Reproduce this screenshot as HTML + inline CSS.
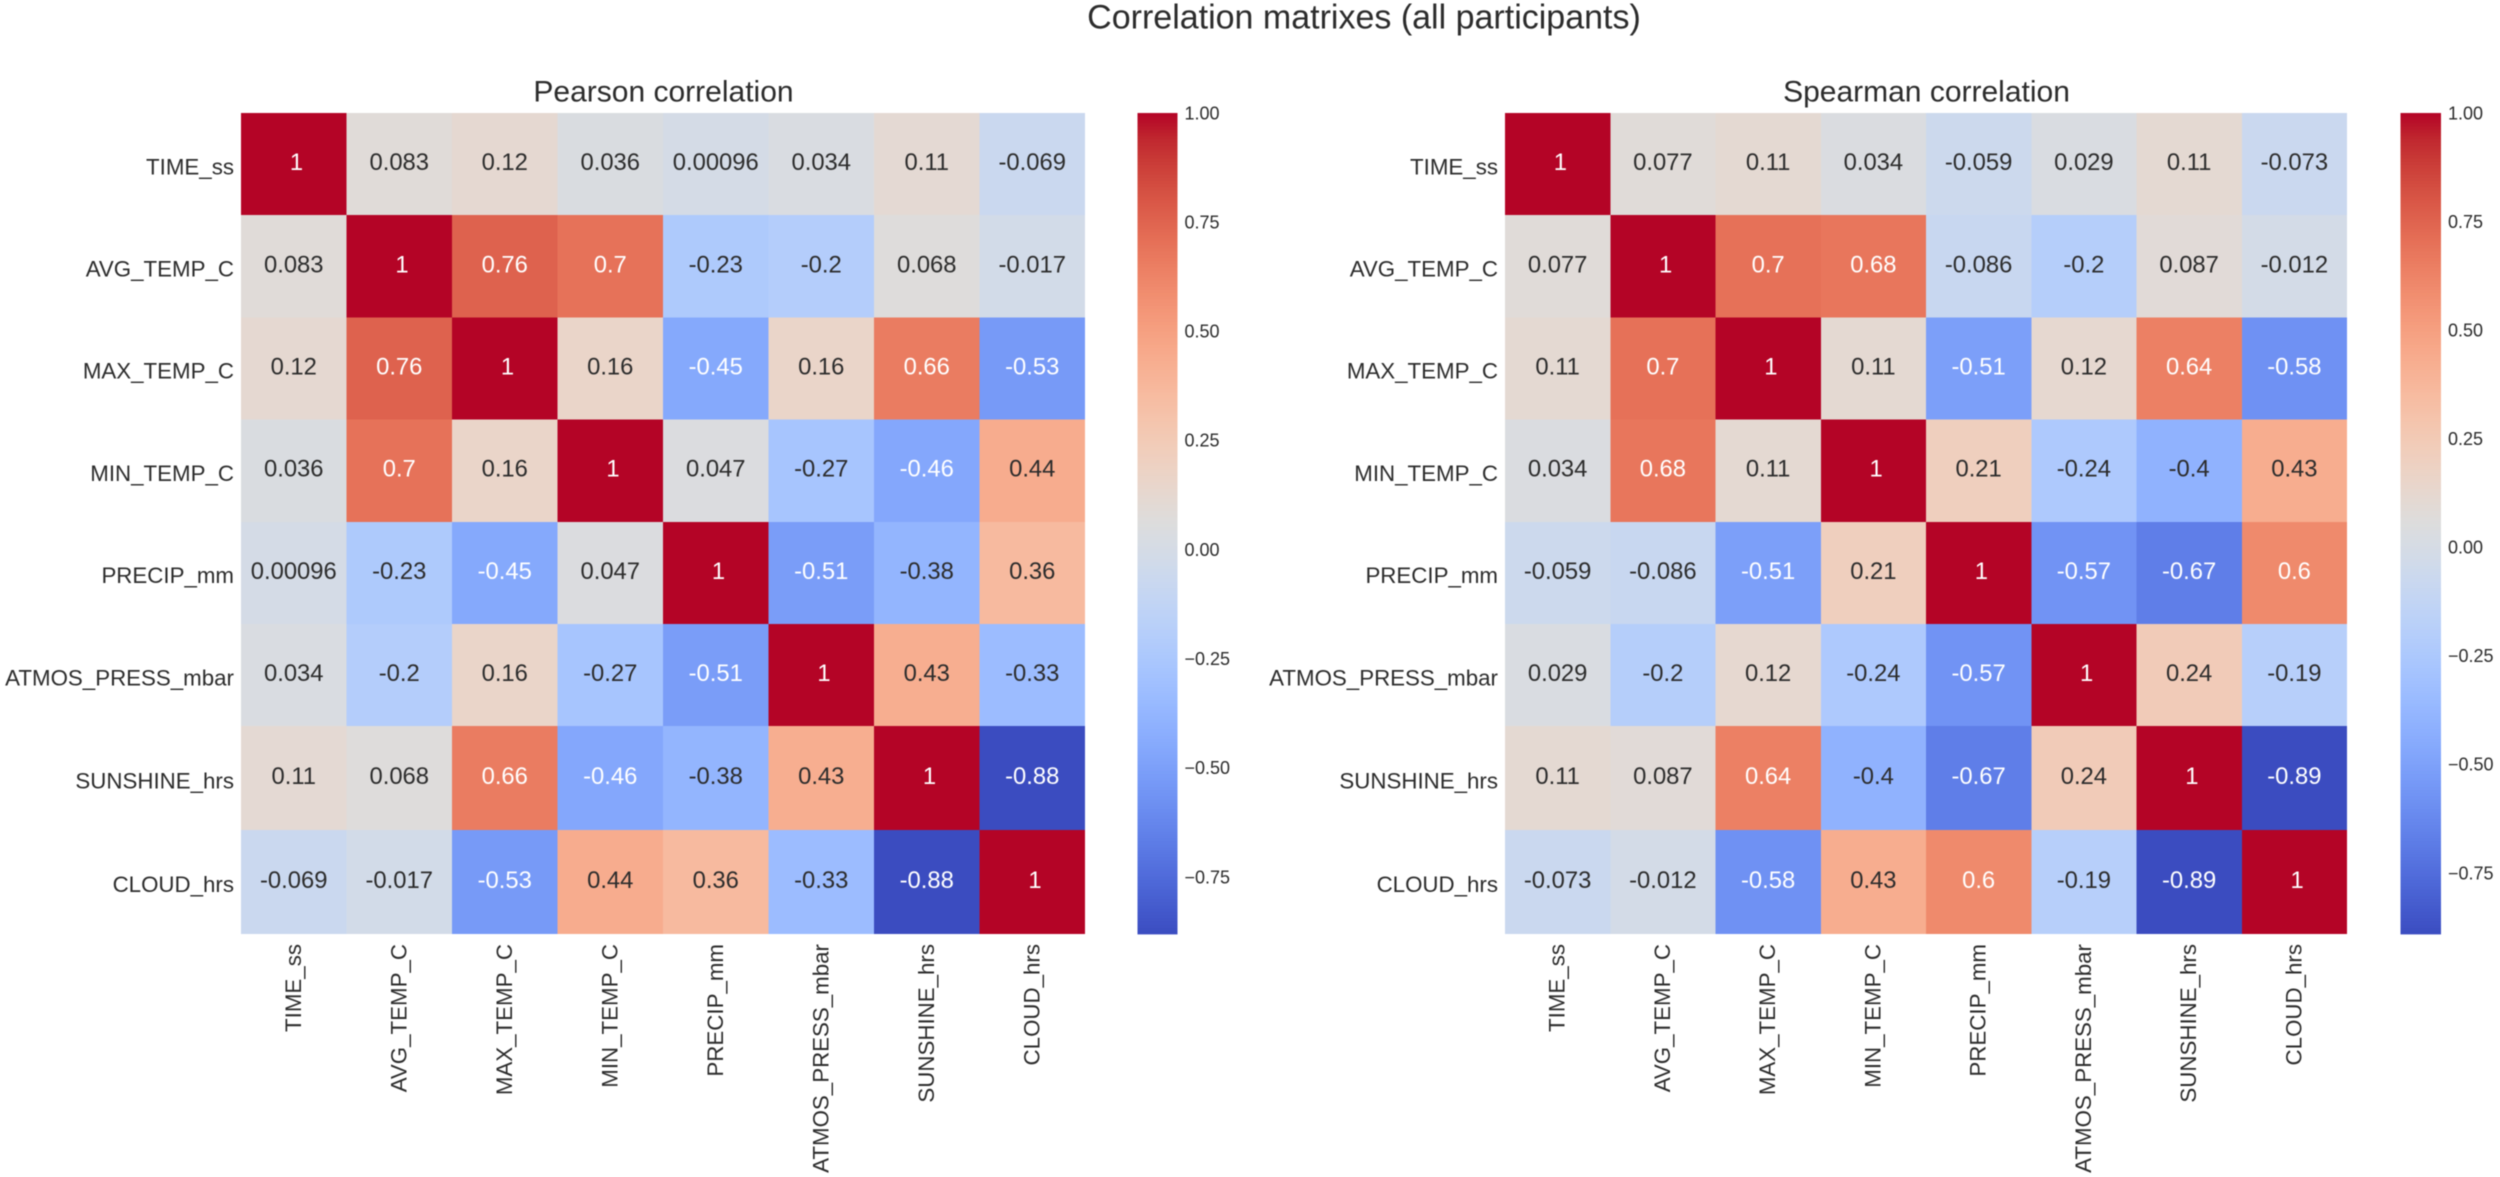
<!DOCTYPE html>
<html lang="en">
<head>
<meta charset="utf-8">
<title>Correlation matrixes (all participants)</title>
<style>
  html, body { margin: 0; padding: 0; background: #ffffff; width: 2500px; height: 1177px; overflow: hidden; }
  #chart { display: block; filter: blur(0.65px); }
  text { font-family: "Liberation Sans", sans-serif; fill: #2c2c2c; }
</style>
</head>
<body>
<svg id="chart" xmlns="http://www.w3.org/2000/svg" width="2500" height="1177" viewBox="0 0 2500 1177">
  <rect x="0" y="0" width="2500" height="1177" fill="#ffffff"></rect>
  <text x="1364" y="28.5" text-anchor="middle" font-size="34">Correlation matrixes (all participants)</text>
</svg>
<script>
const variables = ["TIME_ss", "AVG_TEMP_C", "MAX_TEMP_C", "MIN_TEMP_C", "PRECIP_mm", "ATMOS_PRESS_mbar", "SUNSHINE_hrs", "CLOUD_hrs"];

const pearsonValues = [
  [1, 0.083, 0.12, 0.036, 0.00096, 0.034, 0.11, -0.069],
  [0.083, 1, 0.76, 0.7, -0.23, -0.2, 0.068, -0.017],
  [0.12, 0.76, 1, 0.16, -0.45, 0.16, 0.66, -0.53],
  [0.036, 0.7, 0.16, 1, 0.047, -0.27, -0.46, 0.44],
  [0.00096, -0.23, -0.45, 0.047, 1, -0.51, -0.38, 0.36],
  [0.034, -0.2, 0.16, -0.27, -0.51, 1, 0.43, -0.33],
  [0.11, 0.068, 0.66, -0.46, -0.38, 0.43, 1, -0.88],
  [-0.069, -0.017, -0.53, 0.44, 0.36, -0.33, -0.88, 1]
];

const spearmanValues = [
  [1, 0.077, 0.11, 0.034, -0.059, 0.029, 0.11, -0.073],
  [0.077, 1, 0.7, 0.68, -0.086, -0.2, 0.087, -0.012],
  [0.11, 0.7, 1, 0.11, -0.51, 0.12, 0.64, -0.58],
  [0.034, 0.68, 0.11, 1, 0.21, -0.24, -0.4, 0.43],
  [-0.059, -0.086, -0.51, 0.21, 1, -0.57, -0.67, 0.6],
  [0.029, -0.2, 0.12, -0.24, -0.57, 1, 0.24, -0.19],
  [0.11, 0.087, 0.64, -0.4, -0.67, 0.24, 1, -0.89],
  [-0.073, -0.012, -0.58, 0.43, 0.6, -0.19, -0.89, 1]
];

const colorbarTicks = [1, 0.75, 0.5, 0.25, 0, -0.25, -0.5, -0.75];

// matplotlib "coolwarm" colormap anchor channels (33 evenly spaced anchors)
const coolwarmRed = [0.2298057,0.26623388,0.30386891,0.342804478,0.38301334,0.424369608,0.46666708,0.509635204,0.552953156,0.596262162,0.639176211,0.681291281,0.722193294,0.761464949,0.798691636,0.833466556,0.865395197,0.897787179,0.924127593,0.944468518,0.958852946,0.96732803,0.969954137,0.966811177,0.958003065,0.943660866,0.923944917,0.89904617,0.869186849,0.834620542,0.795631745,0.752534934,0.705673158];
const coolwarmGreen = [0.298717966,0.353094838,0.406535296,0.458757618,0.50941904,0.558148092,0.604562568,0.648280772,0.688929332,0.726149107,0.759599947,0.788964712,0.813952739,0.834302879,0.849786142,0.860207984,0.86541021,0.848937047,0.827384882,0.800927443,0.769767752,0.734132809,0.694266682,0.650421156,0.602842431,0.551750968,0.49730856,0.439559467,0.378313092,0.312874446,0.24128379,0.157246067,0.01555616];
const coolwarmBlue = [0.753683153,0.801466763,0.84495867,0.883725899,0.917387822,0.945619588,0.968154911,0.98478814,0.995375608,0.999836203,0.998151185,0.990363227,0.976574709,0.956945269,0.931689648,0.901068838,0.865395561,0.820880546,0.774508472,0.726736146,0.678007945,0.628751763,0.579375448,0.530263762,0.481775914,0.434243684,0.387970225,0.343229596,0.300267182,0.259301199,0.220525627,0.184115123,0.150232812];

const SVG_NS = "http://www.w3.org/2000/svg";
const chart = document.getElementById("chart");

function channel(anchors, t) {
  const p = Math.min(Math.max(t, 0), 1) * (anchors.length - 1);
  const i = Math.min(Math.floor(p), anchors.length - 2);
  return anchors[i] + (anchors[i + 1] - anchors[i]) * (p - i);
}
function coolwarm(t) {
  return [channel(coolwarmRed, t), channel(coolwarmGreen, t), channel(coolwarmBlue, t)];
}
function cssColor(rgb) {
  return "rgb(" + rgb.map(function (c) { return Math.round(c * 255); }).join(",") + ")";
}
function luminance(rgb) {
  const lin = rgb.map(function (c) { return c <= 0.03928 ? c / 12.92 : Math.pow((c + 0.055) / 1.055, 2.4); });
  return 0.2126 * lin[0] + 0.7152 * lin[1] + 0.0722 * lin[2];
}
function formatValue(v) {
  return String(Number(v.toPrecision(2)));
}
function slug(s) {
  return s.toLowerCase().replace(/_/g, "-");
}
function bandTop(i) {
  return i <= 6 ? 113 + i * 102.2 : 726.2 + (i - 6) * 103.8;
}

function drawPanel(cfg) {
  const n = cfg.values.length;
  const bandWidth = cfg.width / n;
  const xAxis = function (i) { return cfg.left + i * bandWidth; };
  const allValues = cfg.values.reduce(function (acc, row) { return acc.concat(row); }, []);
  const vmin = Math.min.apply(null, allValues);
  const vmax = Math.max.apply(null, allValues);
  const norm = function (v) { return (v - vmin) / (vmax - vmin); };

  const title = document.createElementNS(SVG_NS, "text");
  
  
  title.setAttribute("x", cfg.left + cfg.width / 2 + 0.5);
  title.setAttribute("y", 101.7);
  title.setAttribute("text-anchor", "middle");
  title.setAttribute("font-size", "30");
  title.textContent = cfg.title;
  chart.appendChild(title);

  for (let r = 0; r < n; r++) {
    for (let c = 0; c < n; c++) {
      const v = cfg.values[r][c];
      const rgb = coolwarm(norm(v));
      const top = bandTop(r);
      const bottom = bandTop(r + 1);
      const cell = document.createElementNS(SVG_NS, "rect");
      
      
      cell.setAttribute("x", xAxis(c));
      cell.setAttribute("y", top);
      cell.setAttribute("width", bandWidth);
      cell.setAttribute("height", bottom - top);
      cell.setAttribute("fill", cssColor(rgb));
      cell.setAttribute("shape-rendering", "crispEdges");
      chart.appendChild(cell);

      const text = formatValue(v);
      const label = document.createElementNS(SVG_NS, "text");
      
      
      label.setAttribute("x", xAxis(c) + bandWidth / 2 + (text === "1" ? 2.8 : 0));
      label.setAttribute("y", (top + bottom) / 2 + 6);
      label.setAttribute("text-anchor", "middle");
      label.setAttribute("font-size", "23.8");
      label.style.fill = luminance(rgb) < 0.408 ? "#ffffff" : "#2c2c2c";
      label.textContent = text;
      chart.appendChild(label);
    }
  }

  variables.forEach(function (name, i) {
    const yLabel = document.createElementNS(SVG_NS, "text");
    
    
    yLabel.setAttribute("x", cfg.left - 7);
    yLabel.setAttribute("y", (bandTop(i) + bandTop(i + 1)) / 2 + 10.2);
    yLabel.setAttribute("text-anchor", "end");
    yLabel.setAttribute("font-size", "22.3");
    yLabel.textContent = name;
    chart.appendChild(yLabel);

    const xLabel = document.createElementNS(SVG_NS, "text");
    const px = xAxis(i) + bandWidth / 2 + 7;
    const py = 944;
    
    
    xLabel.setAttribute("transform", "translate(" + px + "," + py + ") rotate(-90)");
    xLabel.setAttribute("text-anchor", "end");
    xLabel.setAttribute("font-size", "22.3");
    xLabel.textContent = name;
    chart.appendChild(xLabel);
  });

  const barTop = bandTop(0);
  const barBottom = bandTop(n);
  const barAxis = function (v) { return barTop + (vmax - v) / (vmax - vmin) * (barBottom - barTop); };
  const steps = 256;
  for (let s = 0; s < steps; s++) {
    const t = (s + 0.5) / steps;
    const segTop = barBottom - (s + 1) / steps * (barBottom - barTop);
    const segHeight = (barBottom - barTop) / steps;
    const seg = document.createElementNS(SVG_NS, "rect");
    
    
    seg.setAttribute("x", cfg.barLeft);
    seg.setAttribute("y", segTop);
    seg.setAttribute("width", cfg.barWidth);
    seg.setAttribute("height", segHeight + 0.6);
    seg.setAttribute("fill", cssColor(coolwarm(t)));
    chart.appendChild(seg);
  }

  colorbarTicks.forEach(function (tick) {
    const tickLabel = document.createElementNS(SVG_NS, "text");
    
    
    tickLabel.setAttribute("x", cfg.barLeft + cfg.barWidth + 7);
    tickLabel.setAttribute("y", barAxis(tick) + 6.3);
    tickLabel.setAttribute("font-size", "18");
    tickLabel.textContent = (tick < 0 ? "\u2212" : "") + Math.abs(tick).toFixed(2);
    chart.appendChild(tickLabel);
  });
}

drawPanel({ key: "pearson", title: "Pearson correlation", values: pearsonValues, left: 241, width: 844, barLeft: 1137.5, barWidth: 40 });
drawPanel({ key: "spearman", title: "Spearman correlation", values: spearmanValues, left: 1505, width: 842, barLeft: 2400.5, barWidth: 40.5 });
</script>
</body>
</html>
